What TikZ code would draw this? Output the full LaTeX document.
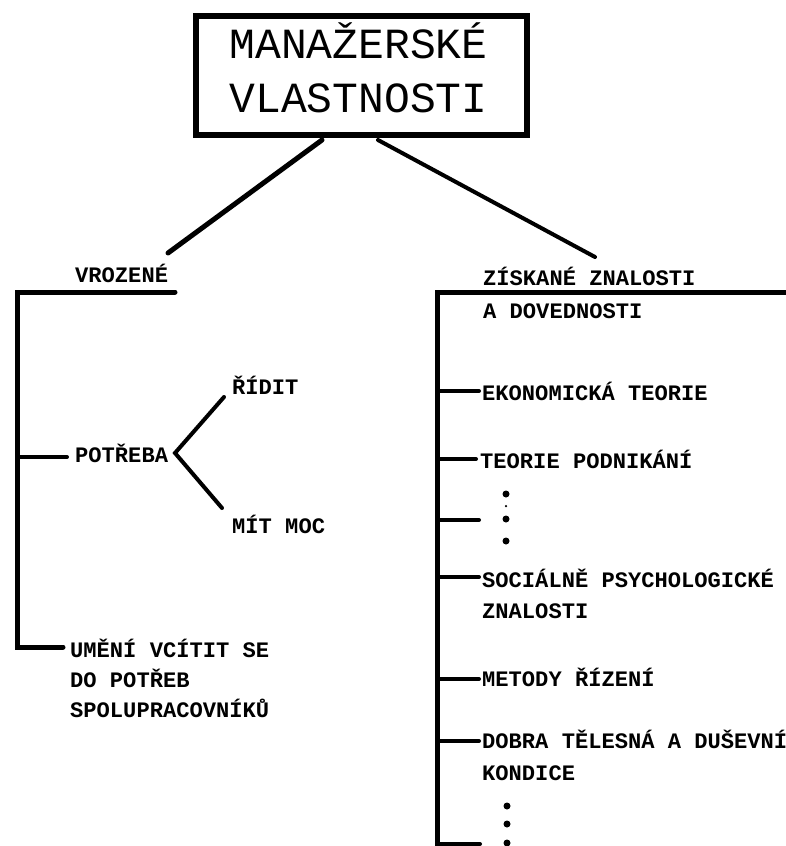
\documentclass[tikz,border=0pt]{standalone}
\usepackage{fontspec}
\setmonofont{Liberation Mono}
\newcommand\lblfont{\ttfamily\bfseries\fontsize{22.1}{31}\selectfont}
\newcommand\ttlfont{\ttfamily\fontsize{43}{54}\selectfont}
\tikzset{
  lbl/.style={anchor=base west, inner sep=0pt, font=\lblfont, align=left},
  ttl/.style={anchor=base, inner sep=0pt, font=\ttlfont},
  titlebox/.style={draw, line width=6pt, minimum width=331pt, minimum height=119pt, inner sep=0pt},
  bar/.style={line width=5pt, line cap=round, line join=miter},
  twig/.style={line width=4pt, line cap=round},
  bigdot/.style={circle, fill, inner sep=0pt, minimum size=7pt},
  tinydot/.style={circle, fill, inner sep=0pt, minimum size=2.5pt},
}
\begin{document}
\begin{tikzpicture}[x=1pt,y=-1pt]
\useasboundingbox (0,0) rectangle (786,846);
\fill[white] (0,0) rectangle (786,846);

% title
\node[titlebox] (title) at (361.5,75.5) {};
\node[ttl] (t1) at (358.5,58) {MANAŽERSKÉ};
\node[ttl] (t2) at (358.5,112) {VLASTNOSTI};

% left part (multi-line nodes: base = baseline of last line)
\node[lbl] (vroz) at (75,282) {VROZENÉ};
\node[lbl] (potreba) at (75,462) {POTŘEBA};
\node[lbl] (ridit) at (232,394) {ŘÍDIT};
\node[lbl] (mitmoc) at (232,533) {MÍT MOC};
\node[lbl, font=\ttfamily\bfseries\fontsize{22.1}{30}\selectfont] (umeni) at (70,717) {UMĚNÍ VCÍTIT SE\\DO POTŘEB\\SPOLUPRACOVNÍKŮ};

% right part
\node[lbl, font=\ttfamily\bfseries\fontsize{22.1}{33}\selectfont] (zisk) at (483,318) {ZÍSKANÉ ZNALOSTI\\A DOVEDNOSTI};
\node[lbl] (ekon) at (482,400) {EKONOMICKÁ TEORIE};
\node[lbl] (podn) at (480,468) {TEORIE PODNIKÁNÍ};
\node[lbl] (soc) at (482,618) {SOCIÁLNĚ PSYCHOLOGICKÉ\\ZNALOSTI};
\node[lbl] (met) at (482,686) {METODY ŘÍZENÍ};
\node[lbl, font=\ttfamily\bfseries\fontsize{22.1}{32}\selectfont] (dob) at (482,780) {DOBRA TĚLESNÁ A DUŠEVNÍ\\KONDICE};

% coordinates
\coordinate (tl) at (322,140);
\coordinate (tr) at (378,140);
\coordinate (vrozend) at (168,253);
\coordinate (ziskend) at (595,257);

\coordinate (lhe) at (175,292);
\coordinate (ltop) at (17,292);
\coordinate (lbot) at (17,647);
\coordinate (lbe) at (63,647);
\coordinate (lmid) at (17,457);
\coordinate (pbe) at (67,457);
\coordinate (vx) at (175,453);
\coordinate (rid) at (224,397);
\coordinate (mit) at (222,508);

\coordinate (rhe) at (788,292);
\coordinate (rtop) at (437,292);
\coordinate (rbot) at (437,848);
\coordinate (r1) at (437,391);  \coordinate (r1e) at (479,391);
\coordinate (r2) at (437,459);  \coordinate (r2e) at (476,459);
\coordinate (r3) at (437,520);  \coordinate (r3e) at (479,520);
\coordinate (r4) at (437,577);  \coordinate (r4e) at (479,577);
\coordinate (r5) at (437,679);  \coordinate (r5e) at (479,679);
\coordinate (r6) at (437,741);  \coordinate (r6e) at (479,741);
\coordinate (r7) at (437,844);  \coordinate (r7e) at (480,844);

% connectors from title
\draw[bar] (tl) -- (vrozend);
\draw[line width=4pt, line cap=round] (tr) -- (ziskend);

% left bracket
\draw[bar] (lhe) -- (ltop) -- (lbot) -- (lbe);
\draw[twig] (lmid) -- (pbe);
\draw[twig, line join=miter] (rid) -- (vx) -- (mit);

% right bracket
\draw[bar] (rhe) -- (rtop) -- (rbot);
\foreach \i in {1,...,7} {\draw[twig] (r\i) -- (r\i e);}

% dots
\node[bigdot] (d1) at (506,494) {};
\node[tinydot] (d2) at (506,506) {};
\node[bigdot] (d3) at (506,519) {};
\node[bigdot] (d4) at (506,541) {};
\node[bigdot] (d5) at (507,806) {};
\node[bigdot] (d6) at (507,824) {};
\node[bigdot] (d7) at (507,843) {};
\end{tikzpicture}
\end{document}
